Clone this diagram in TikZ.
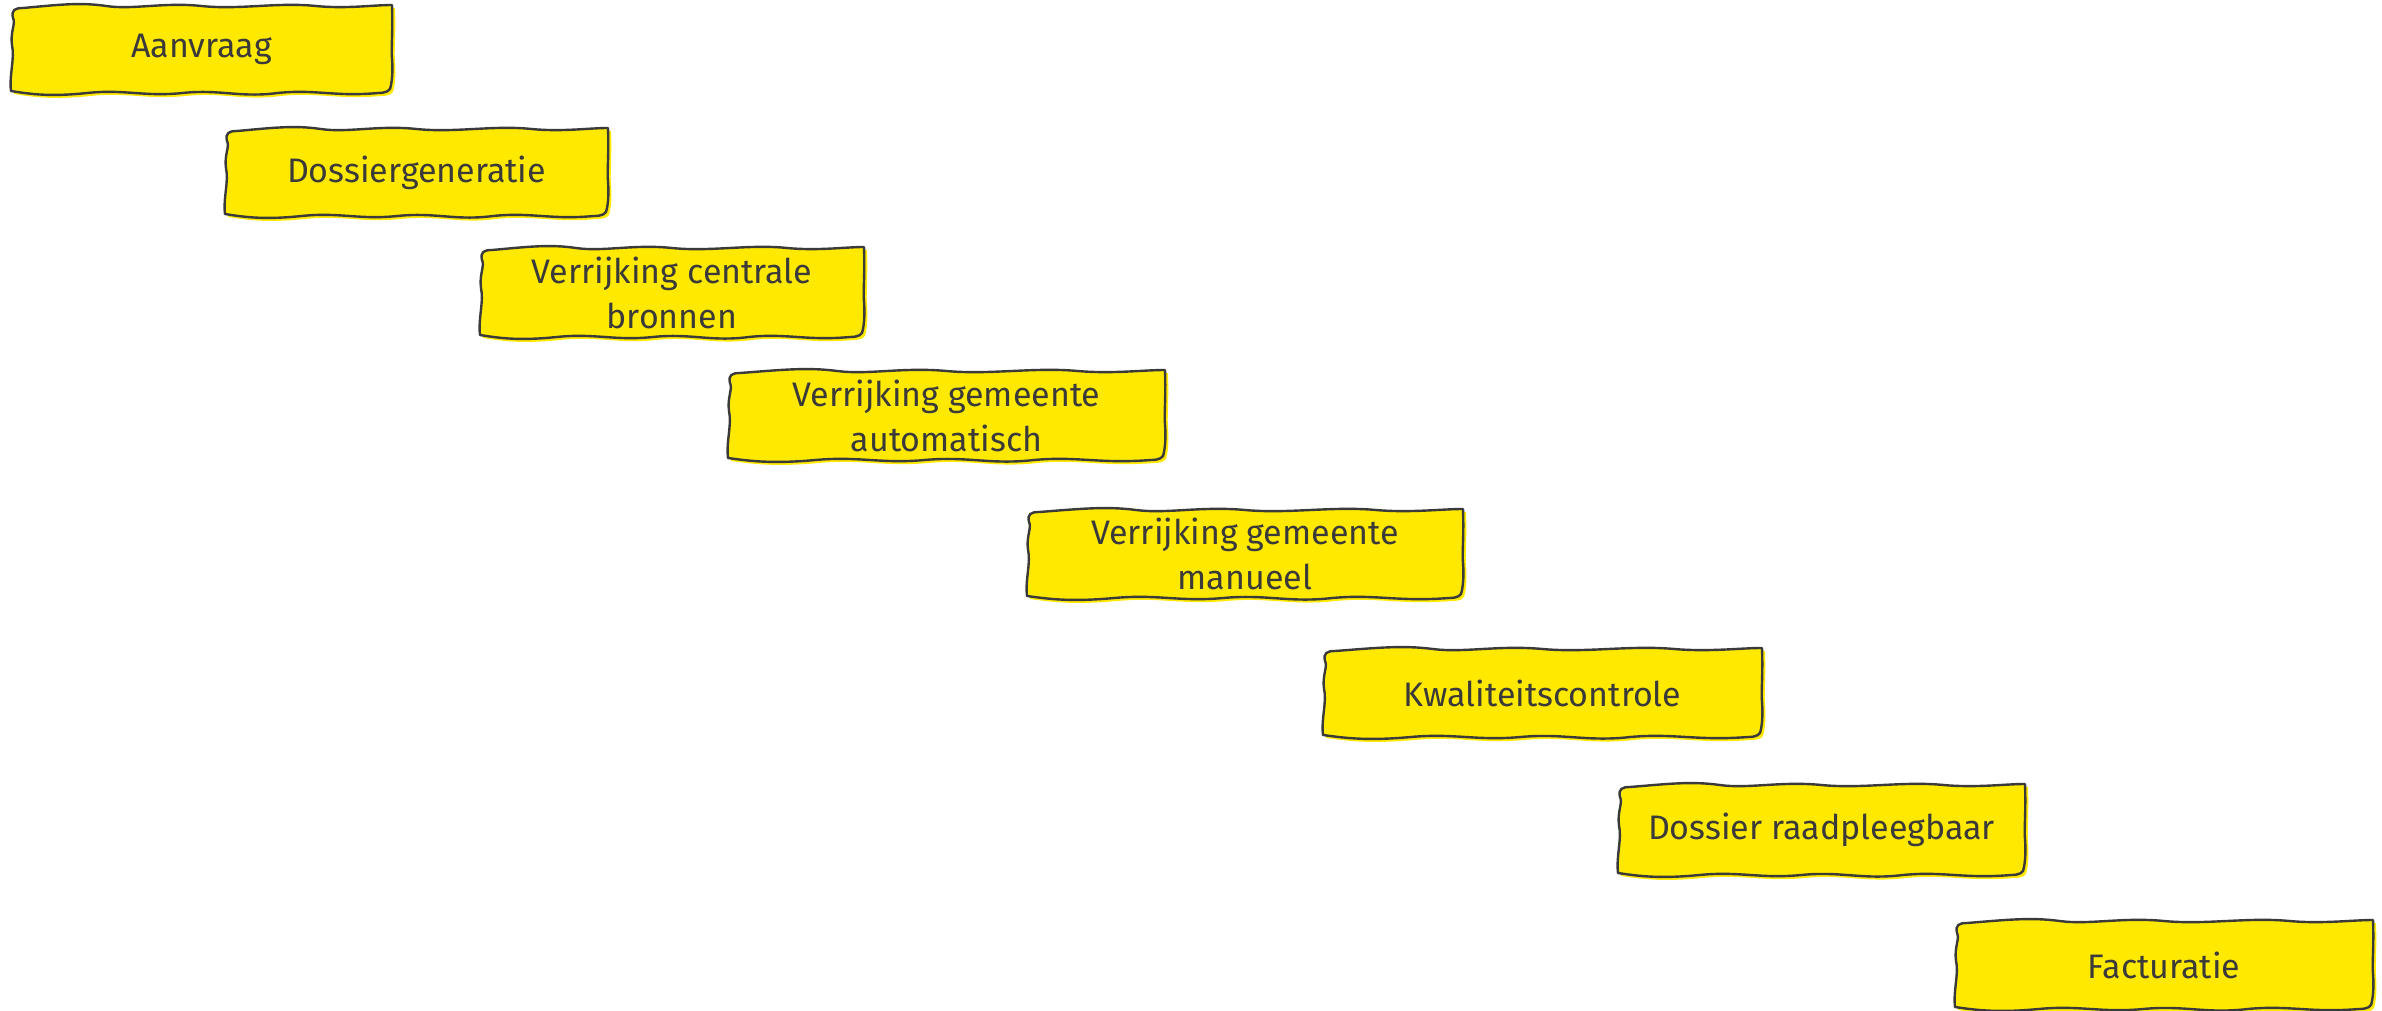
\documentclass[tikz,border=0pt]{standalone}
\usepackage{fontspec}
\setmainfont{Fira Sans}
\usetikzlibrary{backgrounds}
\definecolor{boxyellow}{HTML}{FFE900}
\definecolor{ink}{HTML}{3A3A3A}
\newcommand\wobpath[2]{(2,-12) .. controls (0,-4) and (4,-2) .. (12,-2)
 .. controls ({0.12*#1},1) and ({0.18*#1},4) .. ({0.25*#1},0)
 .. controls ({0.32*#1},-4) and ({0.4*#1},4) .. ({0.5*#1},0)
 .. controls ({0.6*#1},-4) and ({0.7*#1},4) .. ({0.8*#1},0)
 .. controls ({0.88*#1},-3) and ({0.95*#1},1) .. (#1,1)
 .. controls ({#1+1},{-0.3*#2}) and ({#1-1},{-0.5*#2}) .. (#1,{-0.6*#2})
 .. controls ({#1+1},{-0.75*#2}) and (#1,{-0.85*#2}) .. ({#1-1},{-#2+8})
 .. controls ({#1-1},{-#2+2}) and ({#1-6},{-#2}) .. ({#1-14},{-#2})
 .. controls ({0.85*#1},{-#2-4}) and ({0.8*#1},{-#2+4}) .. ({0.7*#1},{-#2})
 .. controls ({0.6*#1},{-#2-5}) and ({0.55*#1},{-#2+4}) .. ({0.45*#1},{-#2})
 .. controls ({0.35*#1},{-#2-4}) and ({0.3*#1},{-#2+4}) .. ({0.2*#1},{-#2})
 .. controls ({0.1*#1},{-#2-4}) and ({0.05*#1},{-#2-1}) .. (0,{-#2+2})
 .. controls (-2,{-0.8*#2}) and (4,{-0.6*#2}) .. (1,{-0.45*#2})
 .. controls (-1,{-0.3*#2}) and (5,{-0.2*#2}) .. (2,-12) -- cycle}
\newcommand\wobbox[3]{%
 \begin{scope}[on background layer, shift={(#1.center)}, shift={({-#2/2},{#3/2})}]
  \fill[boxyellow, shift={(3,-3)}] \wobpath{#2}{#3};
  \path[wobline] \wobpath{#2}{#3};
 \end{scope}}
\tikzset{
 stage/.style={inner sep=0pt, text=ink, font=\fontsize{34}{45}\selectfont, align=center},
 wobline/.style={draw=ink, line width=2.4pt, fill=boxyellow, line join=round},
}
\begin{document}
\begin{tikzpicture}[x=1pt, y=1pt]
\useasboundingbox (0,0) rectangle (2382,-1011);
\node[stage] (s1) at (201.5,-49.5) {Aanvraag};
\node[stage] (s2) at (416.5,-172.5) {Dossiergeneratie};
\node[stage] (s3) at (672,-292.5) {Verrijking centrale\\bronnen};
\node[stage] (s4) at (946.5,-415.5) {Verrijking gemeente\\automatisch};
\node[stage] (s5) at (1245,-554) {Verrijking gemeente\\manueel};
\node[stage] (s6) at (1542.5,-693) {Kwaliteitscontrole};
\node[stage] (s7) at (1821.5,-830) {Dossier raadpleegbaar};
\node[stage] (s8) at (2164,-965) {Facturatie};
\wobbox{s1}{381}{87}
\wobbox{s2}{383}{87}
\wobbox{s3}{384}{89}
\wobbox{s4}{437}{89}
\wobbox{s5}{436}{88}
\wobbox{s6}{439}{88}
\wobbox{s7}{407}{90}
\wobbox{s8}{418}{88}
\end{tikzpicture}
\end{document}
